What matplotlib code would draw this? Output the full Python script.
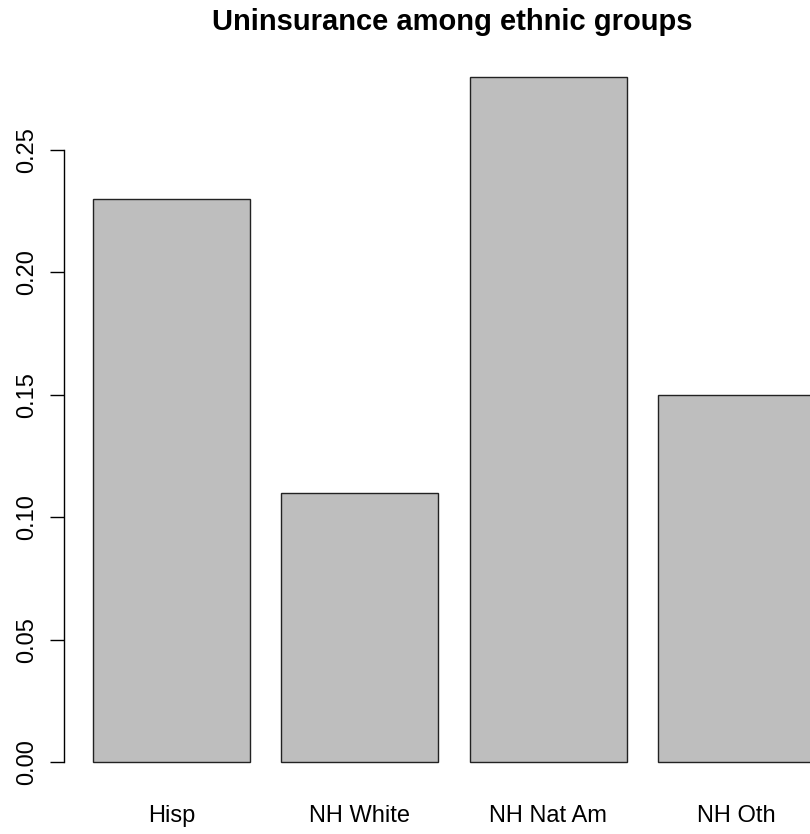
import matplotlib
matplotlib.use("agg")
import matplotlib.pyplot as plt

groups = ["Hisp", "NH White", "NH Nat Am", "NH Oth"]
uninsured = [0.23, 0.11, 0.28, 0.15]
yticks = [0.00, 0.05, 0.10, 0.15, 0.20, 0.25]

plt.rcParams["font.family"] = ["Liberation Sans", "DejaVu Sans"]

fig = plt.figure(figsize=(8.10, 8.34), dpi=100)
# plot region in pixels: x 64..844 (runs past the right edge), y 49..789
ax = fig.add_axes([64 / 810, (834 - 789.4) / 834, 780 / 810, 740.2 / 834])

# R-style barplot: width 1, space 0.2
centers = [0.7 + 1.2 * i for i in range(len(groups))]
ax.bar(centers, uninsured, width=1.0, color="#bebebe", edgecolor="#222222",
       linewidth=1.0, clip_on=False)

ax.set_xlim(0.016, 4.984)
ax.set_ylim(-0.0112, 0.2912)

for s in ["top", "right", "bottom"]:
    ax.spines[s].set_visible(False)
ax.spines["left"].set_bounds(0, 0.25)
ax.spines["left"].set_linewidth(1.0)

ax.set_yticks(yticks)
ax.set_yticklabels(["%.2f" % v for v in yticks], rotation=90, va="center",
                   fontsize=17)
ax.tick_params(axis="y", length=10, width=1.0, pad=8.5)

ax.set_xticks(centers)
ax.set_xticklabels(groups, fontsize=17)
ax.tick_params(axis="x", length=0, pad=11)

# title is centred over the whole plot region, which runs past the right edge
fig.text(452 / 810, 1 - 30 / 834, "Uninsurance among ethnic groups",
         ha="center", va="baseline", fontsize=21, fontweight="bold")

fig.savefig("out.png", dpi=100)
